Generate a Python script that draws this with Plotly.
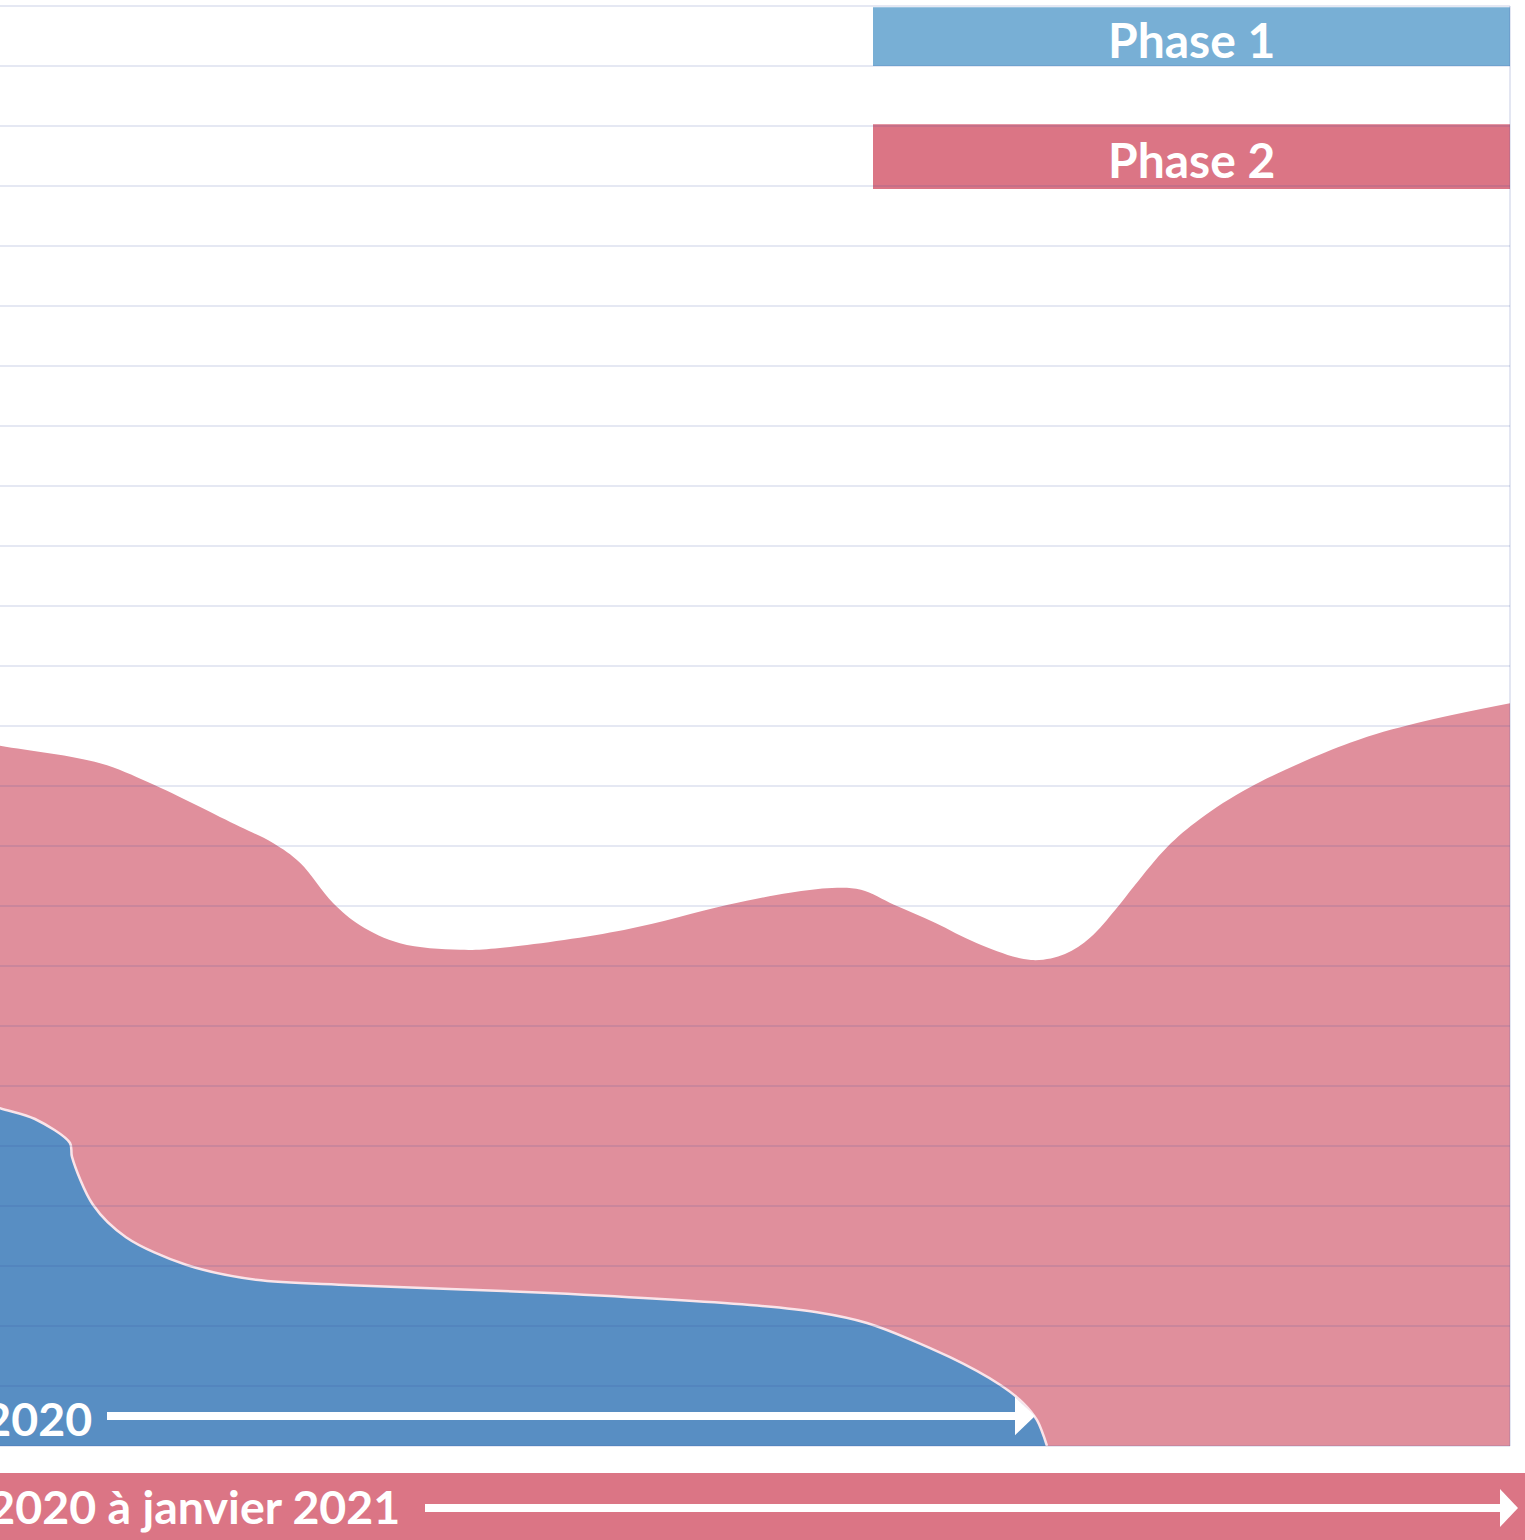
import plotly.graph_objects as go

# ---- Data (x: time index, y: value) ----
x_phase2 = [-6, 0, 10, 15, 24, 27.3, 30, 33.3, 36, 40, 46, 50, 62.4, 72.8, 79, 83.2,
            86.1, 89.4, 93.5, 97.7, 103.1, 106.5, 109, 111.6, 113.5, 116.7, 120, 125, 135, 141.7, 151]
y_phase2 = [11.85, 11.67, 11.38, 11.05, 10.32, 10.05, 9.72, 9.05, 8.68, 8.38, 8.27, 8.30,
            8.60, 9.02, 9.22, 9.30, 9.27, 9.02, 8.72, 8.38, 8.10, 8.20, 8.47, 8.95, 9.35,
            9.98, 10.45, 10.98, 11.72, 12.05, 12.38]

x_phase1 = [-6, 0, 3.5, 7, 7.2, 9.3, 12.6, 18.6, 25.6, 35.1, 55, 75, 81.7, 86.7, 95,
            100, 102.3, 103.7, 104.7]
y_phase1 = [5.93, 5.63, 5.45, 5.05, 4.82, 4.02, 3.48, 3.02, 2.77, 2.68, 2.55, 2.35, 2.23,
            2.05, 1.48, 1.02, 0.72, 0.43, 0.0]

grid_levels = list(range(0, 25))
phase_labels = ["Phase 1", "Phase 2"]
period_labels = ["Mars à juin 2020", "De juillet 2020 à janvier 2021"]

BLUE_FILL = "#588ec3"
PINK_FILL = "#e08f9c"
BLUE_BAR = "#78afd5"
PINK_BAR = "#db7585"
GRID = "rgba(50,70,160,0.17)"

W, H = 1525, 1540
ML, MR, MT, MB = 0, 13, 0, 88
PW = W - ML - MR
PH = H - MT - MB


def px(xp):
    return (xp - ML) / PW


def py(yp):
    return (PH - (yp - MT)) / PH


fig = go.Figure()
fig.add_trace(go.Scatter(
    x=x_phase2, y=y_phase2, mode="lines", line=dict(shape="spline", smoothing=1.0, width=0, color=PINK_FILL),
    fill="tozeroy", fillcolor=PINK_FILL, name=phase_labels[1], hoverinfo="skip"))
fig.add_trace(go.Scatter(
    x=x_phase1, y=y_phase1, mode="lines",
    line=dict(shape="spline", smoothing=0.9, width=2.5, color="rgba(250,228,233,1)"),
    fill="tozeroy", fillcolor=BLUE_FILL, name=phase_labels[0], hoverinfo="skip"))

shapes = []
# phase header bars (below gridlines)
shapes.append(dict(type="rect", xref="x", yref="y", x0=87.3, x1=151, y0=23.0, y1=23.98,
                   fillcolor=BLUE_BAR, line=dict(width=0), layer="above"))
shapes.append(dict(type="rect", xref="x", yref="y", x0=87.3, x1=151, y0=20.95, y1=22.03,
                   fillcolor=PINK_BAR, line=dict(width=0), layer="above"))
# gridlines drawn over areas
for v in grid_levels:
    shapes.append(dict(type="line", xref="paper", yref="y", x0=0, x1=px(1510), y0=v, y1=v,
                       line=dict(color=GRID, width=1.6), layer="above"))
shapes.append(dict(type="line", xref="x", yref="y", x0=151, x1=151, y0=0, y1=24,
                   line=dict(color=GRID, width=1.6), layer="above"))
# arrow in phase 1 area
shapes.append(dict(type="line", xref="x", yref="y", x0=10.7, x1=101.6, y0=0.5, y1=0.5,
                   line=dict(color="white", width=8), layer="above"))
shapes.append(dict(type="path", xref="x", yref="y",
                   path="M 101.5 0.82 L 103.5 0.5 L 101.5 0.18 Z",
                   fillcolor="white", line=dict(width=0), layer="above"))
# bottom band for phase 2 period
shapes.append(dict(type="rect", xref="paper", yref="paper", x0=px(-5), x1=px(1530),
                   y0=py(1473), y1=py(1545), fillcolor=PINK_BAR, line=dict(width=0)))
shapes.append(dict(type="line", xref="paper", yref="paper", x0=px(425), x1=px(1502),
                   y0=py(1508), y1=py(1508), line=dict(color="white", width=8)))
shapes.append(dict(type="path", xref="paper", yref="paper",
                   path=f"M {px(1500)} {py(1489)} L {px(1518)} {py(1508)} L {px(1500)} {py(1527)} Z",
                   fillcolor="white", line=dict(width=0)))

font = dict(family="Lato", size=48, color="white", weight="bold")
font_small = dict(family="Lato", size=46.5, color="white", weight="bold")
annotations = [
    dict(text=phase_labels[0], xref="x", yref="y", x=119.15, y=23.45, showarrow=False,
         font=font, xanchor="center", yanchor="middle"),
    dict(text=phase_labels[1], xref="x", yref="y", x=119.15, y=21.45, showarrow=False,
         font=font, xanchor="center", yanchor="middle"),
    dict(text=period_labels[0], xref="paper", yref="y", x=px(94), y=0.47, showarrow=False,
         font=font_small, xanchor="right", yanchor="middle"),
    dict(text=period_labels[1], xref="paper", yref="paper", x=px(402), y=py(1506), showarrow=False,
         font=font_small, xanchor="right", yanchor="middle"),
]

fig.update_layout(
    width=W, height=H, margin=dict(l=ML, r=MR, t=MT, b=MB, pad=0),
    paper_bgcolor="white", plot_bgcolor="white", showlegend=False,
    xaxis=dict(range=[0, 151.2], visible=False, showgrid=False, zeroline=False),
    yaxis=dict(range=[-0.1, 24.1], visible=False, showgrid=False, zeroline=False),
    shapes=shapes, annotations=annotations,
)

fig.write_html("out.html", config={"displayModeBar": False},
               post_script="document.body.style.margin='0';")
